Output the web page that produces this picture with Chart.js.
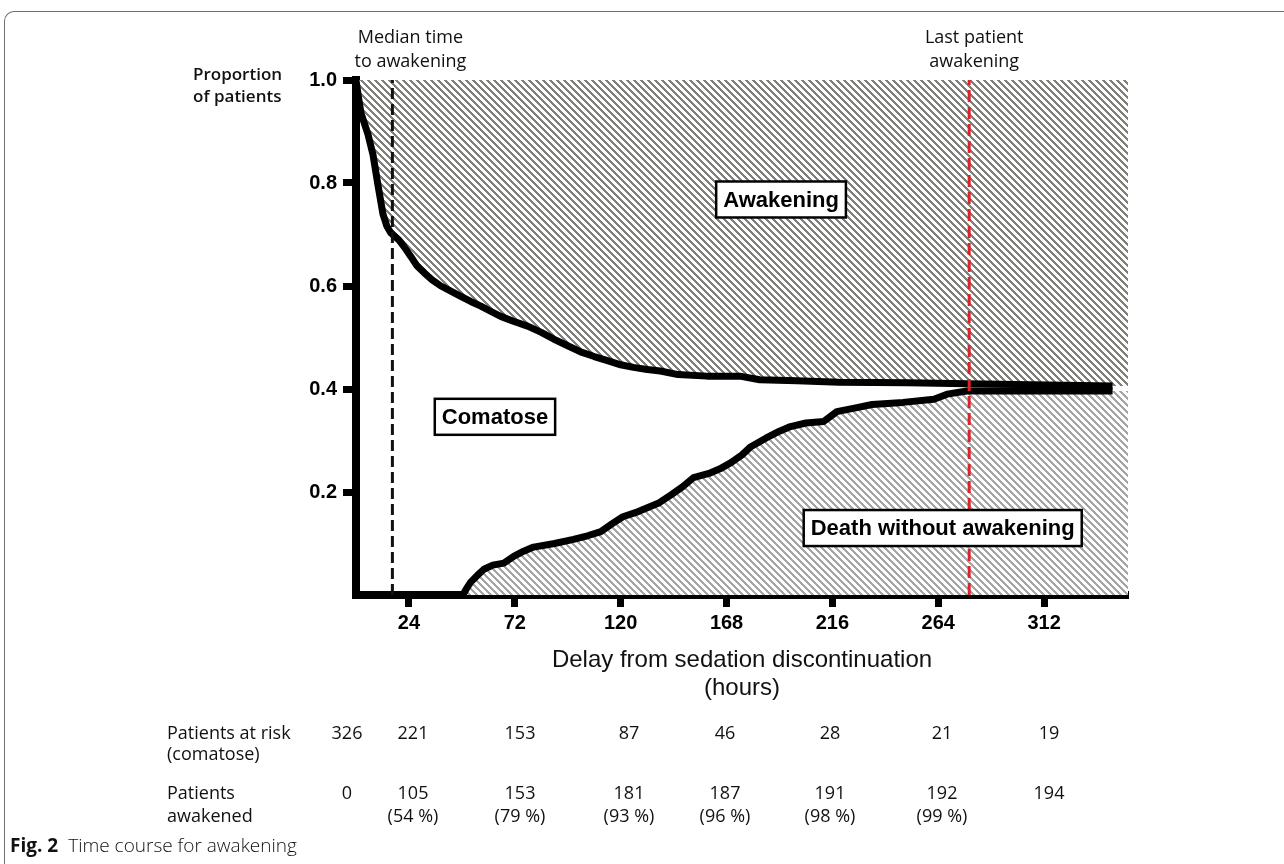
<!DOCTYPE html>
<html>
<head>
<meta charset="utf-8">
<script src="https://cdn.jsdelivr.net/npm/chart.js@4.4.0/dist/chart.umd.min.js"></script>
<style>
  html, body { margin: 0; padding: 0; background: #fff; }
  #page { position: relative; width: 1284px; height: 864px; overflow: hidden; font-family: 'Open Sans', sans-serif; color: #111; }
  #frame { position: absolute; left: 4px; top: 11px; width: 1300px; height: 880px; border-top: 1px solid #707070; border-left: 1px solid #707070; border-top-left-radius: 10px; }
  #chart { position: absolute; left: 0; top: 0; }
  .t { position: absolute; font-size: 18px; line-height: 22px; white-space: nowrap; }
  .c { transform: translateX(-50%); }
  #caption { position: absolute; left: 10px; top: 832px; font-size: 19px; line-height: 26px; white-space: nowrap; }
  #caption b { font-weight: 700; margin-right: 10px; }
  #caption span { font-weight: 300; }
</style>
</head>
<body>
<div id="page">
  <div id="frame"></div>
  <canvas id="chart" width="1284" height="864"></canvas>
  <div id="table"></div>
  <div id="caption"><b>Fig. 2</b><span>Time course for awakening</span></div>
</div>
<script>
// axis ticks
const xTicks = [24, 72, 120, 168, 216, 264, 312];
const yTicks = [0.2, 0.4, 0.6, 0.8, 1.0];
const xMax = 350;

// upper curve: proportion not yet awakened
const awakeHours = [0, 1, 2.3, 5.4, 7.7, 10, 12.2, 14, 15.8, 19.5, 22, 24.9, 27.5, 30.8, 34.5, 38.5, 43, 47.5, 52, 56.6, 61, 65.6, 71, 77.8, 84, 89.6, 96, 101.8, 108, 114, 120, 125.8, 132, 138, 146, 159, 174, 183, 200, 219, 250, 277, 343];
const notAwakened = [1.0, 0.97, 0.935, 0.895, 0.855, 0.795, 0.74, 0.716, 0.703, 0.689, 0.675, 0.657, 0.64, 0.626, 0.612, 0.6, 0.59, 0.58, 0.57, 0.561, 0.551, 0.541, 0.532, 0.522, 0.51, 0.497, 0.484, 0.472, 0.463, 0.455, 0.447, 0.442, 0.438, 0.435, 0.428, 0.425, 0.425, 0.418, 0.416, 0.413, 0.412, 0.41, 0.406];

// lower curve: cumulative death without awakening
const deathHours = [48.5, 50, 52, 55, 58, 62, 67, 71.5, 76, 80.5, 90, 98.6, 105, 111, 116, 121, 128, 137, 143, 148, 153, 160, 165, 170, 175, 179, 186, 192, 197, 204, 212, 218, 226, 234, 248, 262, 268, 277, 300, 343];
const deathProp = [0, 0.012, 0.025, 0.038, 0.05, 0.058, 0.062, 0.075, 0.085, 0.093, 0.1, 0.108, 0.115, 0.123, 0.138, 0.152, 0.162, 0.178, 0.195, 0.21, 0.228, 0.236, 0.245, 0.257, 0.272, 0.288, 0.305, 0.318, 0.327, 0.334, 0.337, 0.356, 0.363, 0.37, 0.374, 0.38, 0.39, 0.396, 0.396, 0.396];

const medianHour = 16.5;
const lastAwakeHour = 278;

// table under the chart
const atRisk = [326, 221, 153, 87, 46, 28, 21, 19];
const awakened = [0, 105, 153, 181, 187, 191, 192, 194];
const awakenedPct = [null, 54, 79, 93, 96, 98, 99, null];

// layout of the table columns (px)
const tableColX = [347, 413, 520, 629, 725, 830, 942, 1049];

const regionLabels = [
  { text: 'Awakening', x: 192.7, y: 0.768 },
  { text: 'Comatose', x: 63, y: 0.346 },
  { text: 'Death without awakening', x: 266, y: 0.13 }
];

const toPoints = (xs, ys) => xs.map((x, i) => ({ x: x, y: ys[i] }));

const canvas = document.getElementById('chart');
const ctx = canvas.getContext('2d');

function makeHatch(rgb, period, on) {
    const tile = document.createElement('canvas');
    tile.width = tile.height = period;
    const g = tile.getContext('2d');
    const img = g.createImageData(period, period);
    for (let y = 0; y < period; y++) {
        for (let x = 0; x < period; x++) {
            const d = ((x - y) % period + period) % period;
            const col = d < on ? rgb : [255, 255, 255];
            const k = (y * period + x) * 4;
            img.data[k] = col[0];
            img.data[k + 1] = col[1];
            img.data[k + 2] = col[2];
            img.data[k + 3] = 255;
        }
    }
    g.putImageData(img, 0, 0);
    return ctx.createPattern(tile, 'repeat');
}

const upperHatch = makeHatch([128, 128, 122], 7, 3);
const lowerHatch = makeHatch([165, 165, 165], 7, 3);

const awakeCurve = toPoints(awakeHours, notAwakened);
const deathCurve = toPoints(deathHours, deathProp);

const overlay = {
    id: 'overlay',
    afterDraw(chart) {
        const c = chart.ctx;
        const xs = chart.scales.x, ys = chart.scales.y;
        const left = chart.chartArea.left;
        c.save();
        c.fillStyle = '#111';

        // y axis title
        c.font = '600 17px "Open Sans", sans-serif';
        c.textAlign = 'left';
        c.textBaseline = 'middle';
        c.fillText('Proportion', left - 163, 75);
        c.fillText('of patients', left - 163, 97);

        // notes over the reference lines
        c.font = '18px "Open Sans", sans-serif';
        c.textAlign = 'center';
        const mx = xs.getPixelForValue(medianHour) + 18;
        c.fillText('Median time', mx, 38);
        c.fillText('to awakening', mx, 62);
        const lx = xs.getPixelForValue(lastAwakeHour) + 5;
        c.fillText('Last patient', lx, 38);
        c.fillText('awakening', lx, 62);

        // boxed region labels
        c.font = 'bold 22px "Liberation Sans", Arial, sans-serif';
        regionLabels.forEach(lab => {
            const cx = xs.getPixelForValue(lab.x);
            const cy = ys.getPixelForValue(lab.y);
            const w = c.measureText(lab.text).width + 14;
            const h = 36;
            c.fillStyle = '#fff';
            c.fillRect(cx - w / 2, cy - h / 2, w, h);
            c.lineWidth = 2.5;
            c.strokeStyle = '#000';
            c.strokeRect(cx - w / 2, cy - h / 2, w, h);
            c.fillStyle = '#000';
            c.fillText(lab.text, cx, cy + 1);
        });
        c.restore();
    }
};

new Chart(ctx, {
    type: 'line',
    data: {
        datasets: [
            {
                label: 'Median time to awakening',
                data: [{ x: medianHour, y: 0 }, { x: medianHour, y: 1 }],
                borderColor: '#111',
                borderWidth: 3,
                borderDash: [11, 5],
                pointRadius: 0,
                fill: false
            },
            {
                label: 'Last patient awakening',
                data: [{ x: lastAwakeHour, y: 0 }, { x: lastAwakeHour, y: 1 }],
                borderColor: '#d8252b',
                borderWidth: 3,
                borderDash: [12, 5],
                pointRadius: 0,
                fill: false
            },
            {
                label: 'Not awakened',
                data: awakeCurve,
                borderColor: '#000',
                borderWidth: 7,
                borderJoinStyle: 'round',
                pointRadius: 0,
                tension: 0,
                fill: false
            },
            {
                label: 'Death without awakening',
                data: deathCurve,
                borderColor: '#000',
                borderWidth: 7,
                borderJoinStyle: 'round',
                pointRadius: 0,
                tension: 0,
                fill: false
            },
            {
                label: 'Awakening area',
                data: awakeCurve.concat([{ x: xMax, y: notAwakened[notAwakened.length - 1] }]),
                borderColor: 'rgba(0,0,0,0)',
                borderWidth: 0,
                pointRadius: 0,
                tension: 0,
                fill: 'end',
                backgroundColor: upperHatch
            },
            {
                label: 'Death area',
                data: deathCurve.concat([{ x: xMax, y: deathProp[deathProp.length - 1] }]),
                borderColor: 'rgba(0,0,0,0)',
                borderWidth: 0,
                pointRadius: 0,
                tension: 0,
                fill: 'origin',
                backgroundColor: lowerHatch
            }
        ]
    },
    options: {
        responsive: false,
        animation: false,
        events: [],
        layout: { padding: { top: 80, right: 156, left: 0, bottom: 0 } },
        plugins: {
            legend: { display: false },
            tooltip: { enabled: false }
        },
        scales: {
            x: {
                type: 'linear',
                min: 0,
                max: xMax,
                z: 1,
                afterBuildTicks: s => { s.ticks = xTicks.map(v => ({ value: v })); },
                afterFit: s => { s.height = 269; },
                grid: { display: true, drawOnChartArea: false, drawTicks: true, tickLength: 12, tickWidth: 7, tickColor: '#000' },
                border: { display: true, width: 8, color: '#000' },
                ticks: {
                    autoSkip: false,
                    maxRotation: 0,
                    padding: 4,
                    color: '#000',
                    font: { family: '"Liberation Sans", Arial, sans-serif', size: 20, weight: 'bold' }
                },
                title: {
                    display: true,
                    text: ['Delay from sedation discontinuation', '(hours)'],
                    color: '#111',
                    padding: { top: 0, bottom: 162 },
                    font: { family: '"Liberation Sans", Arial, sans-serif', size: 24, lineHeight: 28 / 24 }
                }
            },
            y: {
                min: 0,
                max: 1,
                z: 1,
                afterBuildTicks: s => { s.ticks = yTicks.map(v => ({ value: v })); },
                afterFit: s => { s.width = 356; },
                grid: { display: true, drawOnChartArea: false, drawTicks: true, tickLength: 13, tickWidth: 7, tickColor: '#000' },
                border: { display: true, width: 8, color: '#000' },
                ticks: {
                    padding: 6,
                    color: '#000',
                    callback: v => v.toFixed(1),
                    font: { family: '"Liberation Sans", Arial, sans-serif', size: 20, weight: 'bold' }
                }
            }
        }
    },
    plugins: [overlay]
});

// at-risk table
const table = document.getElementById('table');
function addText(txt, x, cy, centered) {
    const d = document.createElement('div');
    d.className = centered ? 't c' : 't';
    d.textContent = txt;
    d.style.left = x + 'px';
    d.style.top = (cy - 11) + 'px';
    table.appendChild(d);
}
addText('Patients at risk', 167, 732, false);
addText('(comatose)', 167, 753, false);
addText('Patients', 167, 792, false);
addText('awakened', 167, 815, false);
atRisk.forEach((v, i) => addText(String(v), tableColX[i], 732, true));
awakened.forEach((v, i) => addText(String(v), tableColX[i], 792, true));
awakenedPct.forEach((v, i) => {
    if (v !== null) addText('(' + v + ' %)', tableColX[i], 815, true);
});
</script>
</body>
</html>
